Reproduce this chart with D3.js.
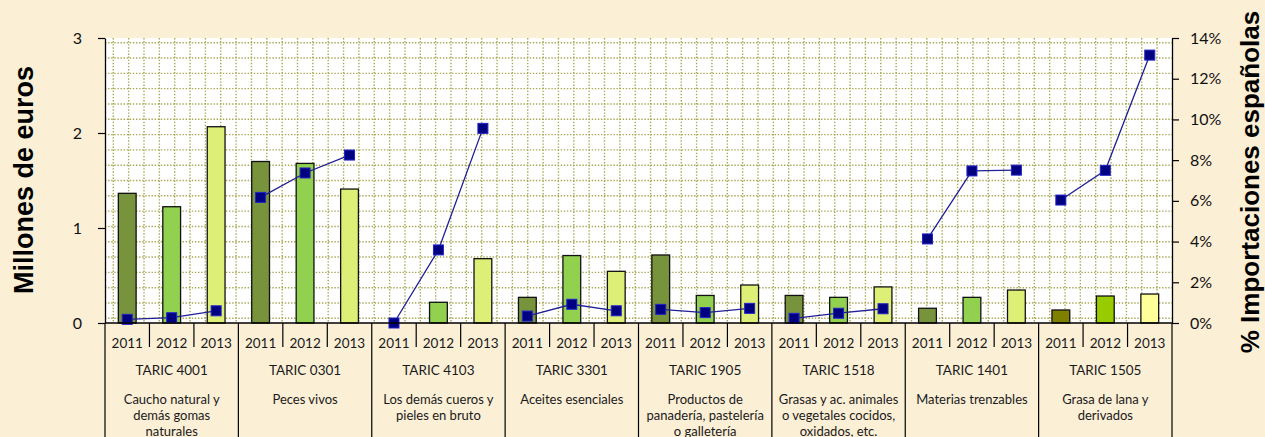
<!DOCTYPE html>
<html>
<head>
<meta charset="utf-8">
<script src="https://cdn.jsdelivr.net/npm/d3@7/dist/d3.min.js"></script>
<style>
  html, body { margin: 0; padding: 0; background: #FBEFD6; }
  svg { display: block; }
</style>
</head>
<body>
<svg id="chart" width="1265" height="437"></svg>
<script>
// ---- Data ----
const years = ["2011", "2012", "2013"];
const codes = ["TARIC 4001", "TARIC 0301", "TARIC 4103", "TARIC 3301", "TARIC 1905", "TARIC 1518", "TARIC 1401", "TARIC 1505"];
const descriptions = [
  ["Caucho natural  y", "demás gomas", "naturales"],
  ["Peces vivos"],
  ["Los demás cueros y", "pieles en bruto"],
  ["Aceites esenciales"],
  ["Productos de", "panadería, pastelería", "o galletería"],
  ["Grasas y ac. animales", "o vegetales cocidos,", "oxidados, etc."],
  ["Materias trenzables"],
  ["Grasa de lana y", "derivados"]
];
// Millones de euros
const valores2011 = [1.365, 1.70, 0.0, 0.27, 0.716, 0.29, 0.155, 0.137];
const valores2012 = [1.224, 1.68, 0.218, 0.71, 0.29, 0.27, 0.27, 0.284];
const valores2013 = [2.066, 1.41, 0.677, 0.544, 0.40, 0.38, 0.347, 0.305];
// % importaciones españolas
const pct2011 = [0.0018, 0.0617, 0.0000, 0.0034, 0.0067, 0.0023, 0.0413, 0.0604];
const pct2012 = [0.0026, 0.0737, 0.0359, 0.0092, 0.0051, 0.0048, 0.0747, 0.0750];
const pct2013 = [0.0060, 0.0825, 0.0956, 0.0060, 0.0072, 0.0070, 0.0751, 0.1316];
const leftTicks = [0, 1, 2, 3];
const rightTicks = [0, 0.02, 0.04, 0.06, 0.08, 0.10, 0.12, 0.14];

const colorsNormal = ["#77933C", "#92D050", "#DDEF77"];
const colorsLast = ["#808000", "#99CC00", "#FFFF99"];

const valores = [valores2011, valores2012, valores2013];
const pcts = [pct2011, pct2012, pct2013];

// ---- Layout ----
const L = 105, R = 1172, T = 38, B = 323, H = 437;
const svg = d3.select("#chart");

const x0 = d3.scaleBand().domain(codes).range([L, R]).padding(0);
const x1 = d3.scaleBand().domain(years).range([0, x0.bandwidth()]).paddingInner(0.6).paddingOuter(0.3);
const xSlot = d3.scaleBand().domain(years).range([0, x0.bandwidth()]).padding(0);
const yL = d3.scaleLinear().domain([0, 3]).range([B, T]);
const yR = d3.scaleLinear().domain([0, 0.14]).range([B, T]);

// plot area
svg.append("rect").attr("x", L).attr("y", T).attr("width", R - L).attr("height", B - T).attr("fill", "#ffffff");

// dotted grid pattern (decorative fill of plot area)
const grid = svg.append("g");
const gcol = "#A8A855";
for (let gx = L + 8.3; gx < R - 1; gx += 15.35) {
  grid.append("line").attr("x1", gx).attr("x2", gx).attr("y1", T).attr("y2", B)
    .attr("stroke", gcol).attr("stroke-width", 1.4).attr("stroke-dasharray", "1.4,1.7");
}
for (let gy = B - 4.7; gy > T + 1; gy -= 15.31) {
  grid.append("line").attr("x1", L).attr("x2", R).attr("y1", gy).attr("y2", gy)
    .attr("stroke", gcol).attr("stroke-width", 1.4).attr("stroke-dasharray", "1.4,1.7");
}

// bars
const barData = [];
codes.forEach((c, gi) => {
  years.forEach((yr, yi) => {
    barData.push({ code: c, gi, year: yr, yi, v: valores[yi][gi] });
  });
});
svg.append("g").selectAll("rect").data(barData.filter(d => d.v > 0)).join("rect")
  .attr("x", d => x0(d.code) + x1(d.year))
  .attr("y", d => yL(d.v))
  .attr("width", x1.bandwidth())
  .attr("height", d => yL(0) - yL(d.v))
  .attr("fill", d => (d.gi === codes.length - 1 ? colorsLast : colorsNormal)[d.yi])
  .attr("stroke", "#111")
  .attr("stroke-width", 1.3);

// lines per group
const line = d3.line()
  .x(d => x0(d.code) + xSlot(d.year) + xSlot.bandwidth() / 2)
  .y(d => yR(d.p));
const lineGroups = codes.map((c, gi) => years.map((yr, yi) => ({ code: c, year: yr, p: pcts[yi][gi] })));
svg.append("g").selectAll("path").data(lineGroups).join("path")
  .attr("d", line).attr("fill", "none").attr("stroke", "#1F1F96").attr("stroke-width", 1.3);
svg.append("g").selectAll("rect").data(lineGroups.flat()).join("rect")
  .attr("x", d => x0(d.code) + xSlot(d.year) + xSlot.bandwidth() / 2 - 5)
  .attr("y", d => yR(d.p) - 5)
  .attr("width", 10).attr("height", 10)
  .attr("fill", "#000080").attr("stroke", "#2222CC").attr("stroke-width", 1);

// axes
const axL = svg.append("g").attr("transform", `translate(${L},0)`)
  .call(d3.axisLeft(yL).tickValues(leftTicks).tickSize(7).tickSizeOuter(0).tickPadding(16).tickFormat(d3.format("d")));
const axR = svg.append("g").attr("transform", `translate(${R},0)`)
  .call(d3.axisRight(yR).tickValues(rightTicks).tickSize(7).tickSizeOuter(0).tickPadding(11).tickFormat(d3.format(".0%")));
[axL, axR].forEach(a => {
  a.select(".domain").attr("stroke", "#000").attr("stroke-width", 1.3);
  a.selectAll(".tick line").attr("stroke", "#000").attr("stroke-width", 1.2);
  a.selectAll(".tick text").attr("font-family", "Lato, 'Open Sans', sans-serif").attr("font-size", 16).attr("fill", "#111");
});

// category table
const tbl = svg.append("g");
tbl.append("line").attr("x1", L).attr("x2", R).attr("y1", B).attr("y2", B).attr("stroke", "#000").attr("stroke-width", 1.3);
codes.concat(["__end"]).forEach((c, i) => {
  const gx = i < codes.length ? x0(c) : R;
  tbl.append("line").attr("x1", gx).attr("x2", gx).attr("y1", B).attr("y2", H)
    .attr("stroke", "#000").attr("stroke-width", 1.2);
});
codes.forEach(c => {
  years.slice(1).forEach(yr => {
    const sx = x0(c) + xSlot(yr);
    tbl.append("line").attr("x1", sx).attr("x2", sx).attr("y1", B).attr("y2", 347)
      .attr("stroke", "#000").attr("stroke-width", 1.2);
  });
});
const fontCat = "Lato, 'Open Sans', sans-serif";
tbl.append("g").selectAll("text").data(barData).join("text")
  .attr("x", d => x0(d.code) + xSlot(d.year) + xSlot.bandwidth() / 2)
  .attr("y", 347.5)
  .attr("text-anchor", "middle")
  .attr("font-family", fontCat).attr("font-size", 13.5).attr("fill", "#1a1a1a")
  .text(d => d.year);
tbl.append("g").selectAll("text").data(codes).join("text")
  .attr("x", d => x0(d) + x0.bandwidth() / 2)
  .attr("y", 375)
  .attr("text-anchor", "middle")
  .attr("font-family", fontCat).attr("font-size", 13.5).attr("fill", "#1a1a1a")
  .text(d => d);
codes.forEach((c, gi) => {
  descriptions[gi].forEach((ln, li) => {
    tbl.append("text")
      .attr("x", x0(c) + x0.bandwidth() / 2)
      .attr("y", 404 + li * 16)
      .attr("text-anchor", "middle")
      .attr("font-family", fontCat).attr("font-size", 13).attr("fill", "#1a1a1a")
      .text(ln);
  });
});

// axis titles
svg.append("text")
  .attr("transform", "translate(33,180) rotate(-90)")
  .attr("text-anchor", "middle")
  .attr("font-family", "'Liberation Sans', Arial, sans-serif").attr("font-weight", "bold")
  .attr("font-size", 27).attr("fill", "#000")
  .text("Millones de euros");
svg.append("text")
  .attr("transform", "translate(1259,182) rotate(-90)")
  .attr("text-anchor", "middle")
  .attr("font-family", "'Liberation Sans', Arial, sans-serif").attr("font-weight", "bold")
  .attr("font-size", 26).attr("fill", "#000")
  .text("% Importaciones españolas");
</script>
</body>
</html>
